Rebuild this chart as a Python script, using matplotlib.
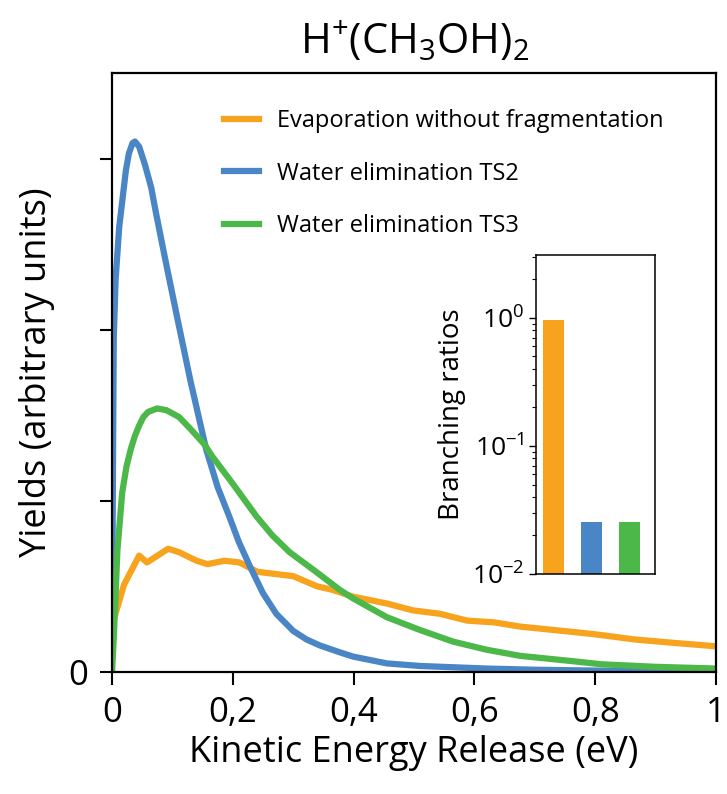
import matplotlib
matplotlib.use("Agg")
import matplotlib.pyplot as plt
import numpy as np

plt.rcParams["font.family"] = ["Open Sans", "DejaVu Sans"]
plt.rcParams["mathtext.fontset"] = "custom"
plt.rcParams["mathtext.rm"] = "Open Sans"
plt.rcParams["mathtext.it"] = "Open Sans"
plt.rcParams["mathtext.bf"] = "Open Sans"

ORANGE = "#F8A31E"
BLUE = "#4A85C6"
GREEN = "#4DB84A"

# kinetic energy release spectra
blue_x = [0, 0.001, 0.002, 0.003, 0.006, 0.012, 0.017, 0.023, 0.028, 0.034, 0.038,
          0.045, 0.055, 0.065, 0.073, 0.09, 0.111, 0.13, 0.156, 0.175, 0.194, 0.21,
          0.228, 0.25, 0.272, 0.3, 0.322, 0.344, 0.377, 0.399, 0.455, 0.51, 0.62,
          0.7, 0.8, 0.9, 1.0]
blue_y = [0, 0.75, 1.4, 1.95, 2.29, 2.6, 2.75, 2.93, 3.03, 3.09, 3.10,
          3.07, 2.96, 2.83, 2.68, 2.38, 2.02, 1.70, 1.30, 1.08, 0.91, 0.76,
          0.62, 0.46, 0.34, 0.24, 0.19, 0.155, 0.115, 0.09, 0.05, 0.035, 0.02,
          0.013, 0.008, 0.005, 0.003]

green_x = [0, 0.003, 0.009, 0.017, 0.024, 0.031, 0.038, 0.045, 0.052, 0.06, 0.075,
           0.09, 0.111, 0.13, 0.153, 0.166, 0.2, 0.239, 0.265, 0.294, 0.338, 0.377,
           0.399, 0.455, 0.51, 0.565, 0.62, 0.676, 0.76, 0.81, 0.9, 1.0]
green_y = [0, 0.2, 0.71, 1.05, 1.2, 1.30, 1.38, 1.44, 1.49, 1.52, 1.54,
           1.53, 1.49, 1.42, 1.33, 1.26, 1.10, 0.91, 0.80, 0.70, 0.585, 0.48,
           0.43, 0.32, 0.245, 0.177, 0.13, 0.094, 0.064, 0.045, 0.03, 0.02]

orange_x = [0.005, 0.02, 0.045, 0.058, 0.093, 0.111, 0.14, 0.158, 0.186, 0.211,
            0.241, 0.30, 0.34, 0.365, 0.399, 0.455, 0.498, 0.543, 0.588, 0.632,
            0.676, 0.76, 0.80, 0.865, 0.93, 1.0]
orange_y = [0.33, 0.51, 0.68, 0.64, 0.72, 0.70, 0.65, 0.63, 0.65, 0.64,
            0.585, 0.56, 0.50, 0.48, 0.44, 0.40, 0.36, 0.34, 0.30, 0.29,
            0.265, 0.235, 0.22, 0.19, 0.17, 0.15]

labels = ["Evaporation without fragmentation", "Water elimination TS2", "Water elimination TS3"]

# branching ratios for the inset
ratios = [0.97, 0.0255, 0.0255]

xticks = [0, 0.2, 0.4, 0.6, 0.8, 1.0]
xticklabels = ["0", "0,2", "0,4", "0,6", "0,8", "1"]
yticks = [0, 1, 2, 3]
yticklabels = ["0", "", "", ""]

fig = plt.figure(figsize=(7.27, 7.94), dpi=100)
ax = fig.add_axes([0.154, 0.1537, 0.831, 0.7543])

l1, = ax.plot(orange_x, orange_y, color=ORANGE, lw=4.5, solid_joinstyle="round")
l2, = ax.plot(blue_x, blue_y, color=BLUE, lw=4.5, solid_joinstyle="round")
l3, = ax.plot(green_x, green_y, color=GREEN, lw=4.5, solid_joinstyle="round")

ax.set_xlim(0, 1)
ax.set_ylim(0, 3.5)
ax.set_xticks(xticks)
ax.set_xticklabels(xticklabels)
ax.set_yticks(yticks)
ax.set_yticklabels(yticklabels)
ax.tick_params(direction="out", length=9, width=1.5, labelsize=25, pad=8)
for s in ax.spines.values():
    s.set_linewidth(1.6)
ax.set_xlabel("Kinetic Energy Release (eV)", fontsize=26, labelpad=4)
ax.set_ylabel("Yields (arbitrary units)", fontsize=26, labelpad=10)
ax.set_title(r"H$^{+}$(CH$_3$OH)$_2$", fontsize=30, pad=14)

ax.legend([l1, l2, l3], labels, loc="upper left", bbox_to_anchor=(0.15, 0.975),
          frameon=False, fontsize=17, handlelength=1.5, handletextpad=0.75,
          labelspacing=1.2)

ins = fig.add_axes([0.737, 0.277, 0.164, 0.402])
ins.bar(range(len(ratios)), ratios, width=0.55, color=[ORANGE, BLUE, GREEN])
ins.set_yscale("log")
ins.set_ylim(0.01, 3.1)
ins.set_xlim(-0.46, 2.67)
ins.set_xticks([])
ins.tick_params(axis="y", which="major", direction="out", length=5, width=1, labelsize=19)
ins.tick_params(axis="y", which="minor", direction="out", length=3, width=0.8)
for s in ins.spines.values():
    s.set_linewidth(1.1)
ins.set_ylabel("Branching ratios", fontsize=20, labelpad=4)

fig.savefig("out.png", dpi=100)
